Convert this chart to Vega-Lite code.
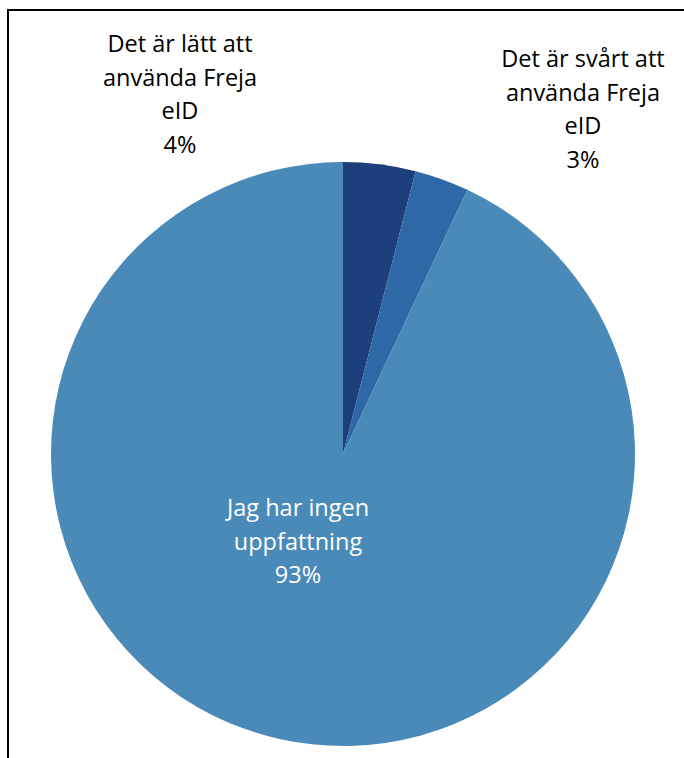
{
  "$schema": "https://vega.github.io/schema/vega-lite/v6.json",
  "width": 680,
  "height": 888,
  "autosize": {"type": "none"},
  "padding": {"left": 8, "top": 10, "right": -4, "bottom": -140},
  "background": "white",
  "view": {"stroke": "black", "strokeWidth": 2, "fill": "white"},
  "config": {"view": {"stroke": "black", "strokeWidth": 2}},
  "data": {
    "values": [
      {"category": "Det är lätt att använda Freja eID", "value": 4, "label": "Det är lätt att\nanvända Freja\neID\n4%"},
      {"category": "Det är svårt att använda Freja eID", "value": 3, "label": "Det är svårt att\nanvända Freja\neID\n3%"},
      {"category": "Jag har ingen uppfattning", "value": 93, "label": "Jag har ingen\nuppfattning\n93%"}
    ]
  },
  "encoding": {
    "theta": {"field": "value", "type": "quantitative", "stack": true},
    "order": {"field": "category", "type": "nominal", "sort": "ascending"}
  },
  "layer": [
    {
      "mark": {"type": "arc", "outerRadius": 292, "xOffset": -5},
      "encoding": {
        "color": {
          "field": "category",
          "type": "nominal",
          "scale": {
            "domain": ["Det är lätt att använda Freja eID", "Det är svårt att använda Freja eID", "Jag har ingen uppfattning"],
            "range": ["#1d3f7b", "#2e68a6", "#4a8ab8"]
          },
          "legend": null
        }
      }
    },
    {
      "mark": {"type": "text", "radius": 361.4, "xOffset": -5, "dx": -208.3, "dy": -50.2, "align": "center", "baseline": "middle", "font": "Open Sans", "fontSize": 23.5, "lineHeight": 33.5, "lineBreak": "\n", "color": "black"},
      "encoding": {
        "text": {"condition": {"test": "datum.category === 'Det är lätt att använda Freja eID'", "field": "label"}, "value": ""}
      }
    },
    {
      "mark": {"type": "text", "radius": 365.1, "xOffset": -5, "dx": 116.3, "dy": -50.2, "align": "center", "baseline": "middle", "font": "Open Sans", "fontSize": 23.5, "lineHeight": 33.5, "lineBreak": "\n", "color": "black"},
      "encoding": {
        "text": {"condition": {"test": "datum.category === 'Det är svårt att använda Freja eID'", "field": "label"}, "value": ""}
      }
    },
    {
      "mark": {"type": "text", "radius": 91.1, "xOffset": -5, "dx": -25.1, "dy": -33.5, "align": "center", "baseline": "middle", "font": "Open Sans", "fontSize": 23.5, "lineHeight": 33.5, "lineBreak": "\n", "color": "white"},
      "encoding": {
        "text": {"condition": {"test": "datum.category === 'Jag har ingen uppfattning'", "field": "label"}, "value": ""}
      }
    }
  ]
}
